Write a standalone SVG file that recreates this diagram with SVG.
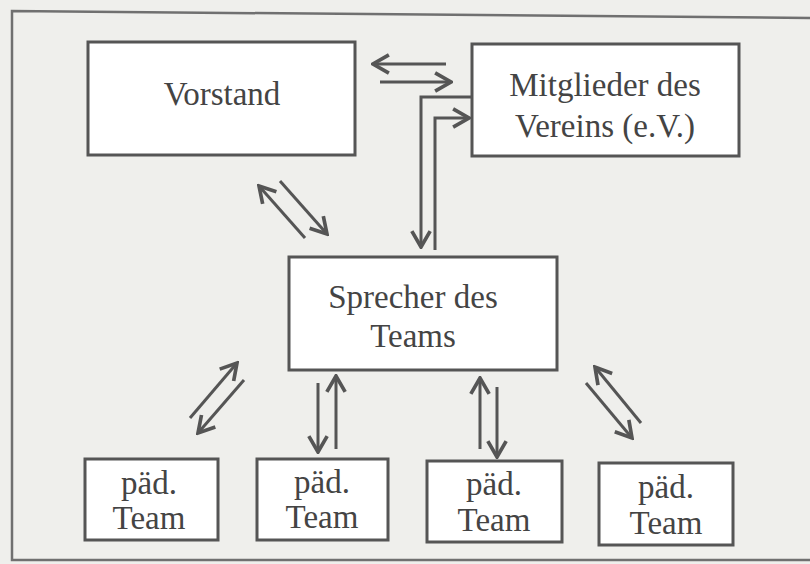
<svg xmlns="http://www.w3.org/2000/svg" width="810" height="564" viewBox="0 0 810 564">
<defs>
<marker id="ah" markerUnits="userSpaceOnUse" markerWidth="22" markerHeight="22" viewBox="-16 -9 18 18" refX="0" refY="0" orient="auto">
<path d="M-13,-7.5 L0,0 L-13,7.5" fill="none" stroke="#555" stroke-width="3"/>
</marker>
</defs>
<style>
.box{fill:#ffffff;stroke:#555;stroke-width:3}
.t{font-family:"Liberation Serif","Times New Roman",serif;font-size:33px;fill:#444;text-anchor:middle}
.c{fill:none;stroke:#555;stroke-width:3;marker-end:url(#ah)}
</style>
<rect x="0" y="0" width="810" height="564" fill="#efefec"/>
<path d="M810,18 L12,11 L12,560 L810,560" fill="none" stroke="#707070" stroke-width="2.5"/>
<g id="vorstand">
<rect class="box" x="88" y="42" width="267" height="113"/>
<text class="t" x="222" y="105">Vorstand</text>
</g>
<g id="mitglieder">
<rect class="box" x="472" y="44" width="267" height="112"/>
<text class="t" x="605" y="96">Mitglieder des</text>
<text class="t" x="605" y="137">Vereins (e.V.)</text>
</g>
<g id="sprecher">
<rect class="box" x="289" y="257" width="268" height="113"/>
<text class="t" x="413" y="308">Sprecher des</text>
<text class="t" x="413" y="347">Teams</text>
</g>
<g id="team1">
<rect class="box" x="85" y="459" width="133" height="81"/>
<text class="t" x="149" y="494">päd.</text>
<text class="t" x="149" y="529">Team</text>
</g>
<g id="team2">
<rect class="box" x="257" y="459" width="131" height="81"/>
<text class="t" x="322" y="493">päd.</text>
<text class="t" x="322" y="528">Team</text>
</g>
<g id="team3">
<rect class="box" x="427" y="461" width="135" height="81"/>
<text class="t" x="494" y="495">päd.</text>
<text class="t" x="494" y="531">Team</text>
</g>
<g id="team4">
<rect class="box" x="599" y="463" width="134" height="82"/>
<text class="t" x="666" y="498">päd.</text>
<text class="t" x="666" y="534">Team</text>
</g>
<g id="connectors">
<path class="c" d="M446,64 L373,64"/>
<path class="c" d="M380,82 L451,82"/>
<path class="c" d="M472,97 L421,97 L421,247"/>
<path class="c" d="M435,250 L435,118 L469,118"/>
<path class="c" d="M305,238 L259,186"/>
<path class="c" d="M280,181 L327,234"/>
<path class="c" d="M190,418 L237,363"/>
<path class="c" d="M244,380 L198,433"/>
<path class="c" d="M318,383 L318,452"/>
<path class="c" d="M336,449 L336,376"/>
<path class="c" d="M480,449 L480,378"/>
<path class="c" d="M497,387 L497,457"/>
<path class="c" d="M641,423 L595,367"/>
<path class="c" d="M586,383 L632,438"/>
</g>
</svg>
